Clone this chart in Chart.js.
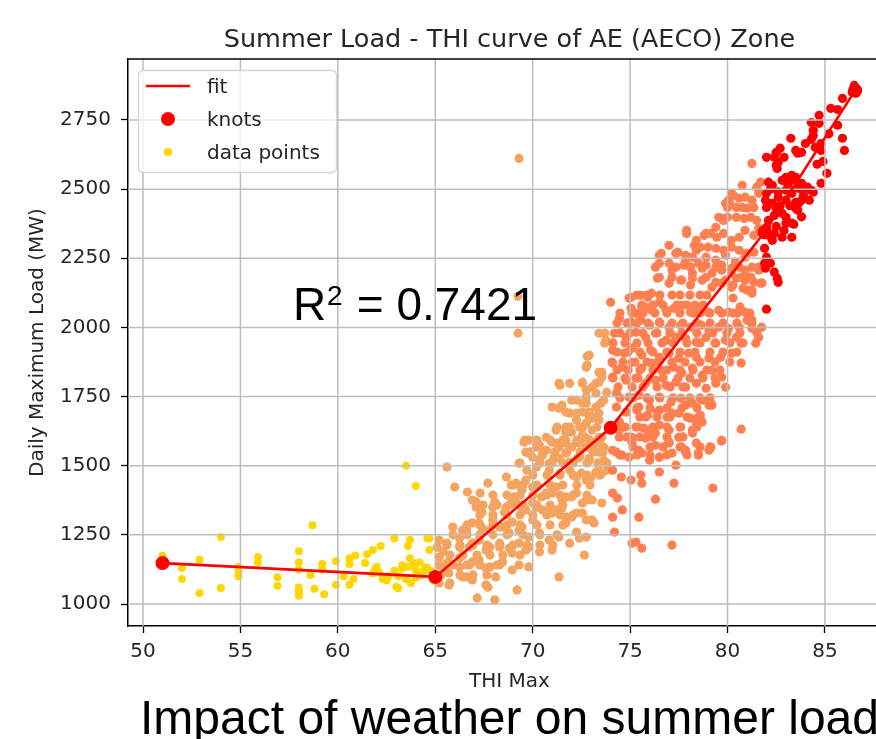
<!DOCTYPE html>
<html>
<head>
<meta charset="utf-8">
<title>Summer Load - THI curve of AE (AECO) Zone</title>
<script src="https://cdn.jsdelivr.net/npm/chart.js@4.4.1/dist/chart.umd.min.js"></script>
<style>
  html, body { margin: 0; padding: 0; background: #fff; overflow: hidden; }
  #wrap { width: 900px; height: 739px; }
</style>
</head>
<body>
<div id="wrap"><canvas id="summerLoad" width="900" height="739"></canvas></div>
<script>
// Tick labels
const xTicks = [50, 55, 60, 65, 70, 75, 80, 85];
const yTicks = [1000, 1250, 1500, 1750, 2000, 2250, 2500, 2750];

// Piecewise linear fit knots
const knotThi = [51.0, 65.0, 74.0, 81.9, 86.55];
const knotLoad = [1148, 1098, 1637, 2344, 2857];

// Data points by colour band, [THI max, daily max load MW]
const goldPoints = [
  [51.0,1175],[51.0,1160],[52.0,1130],[52.0,1090],[52.9,1160],[52.9,1040],[54.0,1242],[54.0,1058],
  [54.9,1134],[54.9,1100],[54.9,1115],[55.9,1170],[55.9,1150],[56.9,1097],[56.9,1066],
  [58.0,1191],[58.0,1150],[58.0,1125],[58.0,1060],[58.0,1045],[58.0,1030],[58.7,1285],[58.6,1105],[58.8,1055],
  [59.2,1145],[59.2,1125],[59.3,1035],[59.9,1155],[59.9,1070],[60.3,1100],[60.6,1165],[60.6,1145],[60.6,1070],
  [60.9,1175],[60.8,1090],[61.4,1148],[61.5,1180],[61.8,1195],[62.2,1210],[62.0,1135],[61.8,1110],[62.3,1090],
  [62.5,1085],[62.9,1237],[63.0,1062],[63.1,1057],[63.3,1128],[63.1,1100],[63.6,1210],[63.5,1090],[63.5,1500],
  [64.0,1427],[63.7,1232],[63.7,1165],[63.9,1147],[63.6,1135],[64.0,1123],[63.75,1075],[64.0,1095],[64.7,1237],
  [64.7,1195],[64.6,1130],[64.8,1118],[64.3,1105],[64.6,1238],[64.5,1133],[62.9,1120],[63.3,1140],[64.2,1150],
  [64.4,1120],[62.1,1115],[62.6,1100],[61.9,1125],[64.9,1085],[64.9,1110]
];
const sandyPoints = [
  [71.4,1791],[71.9,1798],[72.55,1798],[73.05,1784],[73.55,1820],[73.4,1838],[73.8,1766],
  [71.0,1712],[71.5,1719],[72.0,1737],[72.75,1726],[73.25,1712],[73.65,1737],[72.25,1690],[72.9,1676],[73.4,1665],
  [69.55,1585],[70.2,1592],[70.7,1603],[71.2,1582],[71.7,1618],[72.25,1585],[72.75,1600],[73.25,1582],[73.65,1567],
  [69.8,1545],[70.5,1538],[71.1,1531],[71.7,1545],[72.3,1527],[72.9,1527],[73.4,1509],[73.8,1484],
  [69.3,1509],[69.7,1484],[70.2,1495],[70.85,1484],[71.4,1473],[71.9,1484],[72.5,1473],[73.0,1459],[73.55,1473],
  [68.9,1430],[69.45,1412],[70.0,1423],[70.45,1387],[71.0,1401],[71.5,1376],[72.0,1387],[72.55,1365],[73.05,1376],
  [73.55,1365],[67.7,1437],[67.3,1401],
  [68.05,1369],[68.65,1350],[69.15,1365],[69.65,1340],[70.2,1350],[70.7,1329],[71.2,1340],[71.7,1314],[72.25,1329],
  [72.75,1304],[73.15,1293],[66.9,1376],[67.1,1350],
  [65.9,1278],[66.6,1267],[67.25,1293],[67.8,1267],[68.3,1278],[68.8,1257],[69.3,1267],[69.8,1242],[70.35,1257],
  [70.85,1231],[71.35,1242],[71.9,1220],[72.4,1238],[66.0,1423],
  [65.6,1220],[66.25,1206],[66.9,1220],[67.6,1195],[68.3,1206],[68.95,1184],[69.65,1195],[70.35,1188],[71.0,1195],[72.65,1177],
  [65.6,1148],[66.25,1134],[66.9,1152],[67.6,1130],[68.3,1141],[68.95,1123],[69.8,1134],[71.35,1098],[69.2,1051],
  [65.75,1076],[66.6,1098],[66.9,1087],[67.7,1061],[68.05,1015],[67.15,1022],
  [65.2,1231],[66.25,1238],[66.75,1206],[67.25,1231],[67.8,1206],[68.3,1220],[68.8,1202],[69.3,1220],[69.8,1206],
  [65.2,1170],[65.7,1152],[66.25,1166],[66.75,1141],[67.25,1159],[67.8,1134],[68.45,1152],[69.3,1141],
  [65.7,1112],[66.4,1098],[67.6,1069],[68.1,1098],[65.2,1076],[65.7,1069],
  [65.3,1105],[65.5,1125],[65.2,1140],[65.4,1190],[65.1,1205],
  [66.4,1267],[66.9,1293],[67.4,1275],[67.95,1304],[68.45,1278],[68.95,1296],[69.45,1278],[70.0,1304],
  [66.65,1405],[67.1,1369],[67.4,1332],[67.95,1350],[68.55,1332],[69.05,1387],[69.4,1423],[65.6,1495],
  [69.65,1549],[70.0,1531],[70.35,1574],[70.7,1556],[71.0,1585],[71.35,1567],[71.7,1592],[72.0,1567],[72.4,1592],
  [72.75,1567],[73.05,1582],[73.4,1549],[73.65,1520],
  [71.35,1708],[71.7,1694],[72.25,1737],[72.55,1726],[72.9,1694],[72.25,1665],[72.75,1654],[73.05,1672],[73.4,1690],
  [72.75,1773],[73.25,1798],[72.55,1802],[71.35,1798],
  [69.8,1592],[70.2,1567],[71.2,1629],[71.7,1640],[72.0,1621],[72.55,1611],[73.05,1629],[73.4,1603],[70.35,1520],
  [70.85,1509],[71.35,1527],[71.9,1513],[72.4,1531],[72.9,1520],[73.4,1502],[72.25,1459],[72.75,1448],[73.25,1477],
  [68.65,1459],[69.15,1437],[69.65,1448],[70.2,1423],[70.7,1401],[71.2,1423],[71.7,1387],[72.25,1401],[72.75,1376],
  [68.95,1376],[69.45,1350],[70.0,1365],[70.5,1340],[71.0,1329],[71.5,1347],[72.0,1314],[72.55,1329],[73.05,1304],
  [71.7,1293],[72.25,1260],[72.75,1242],
  [73.4,1979],[73.75,1954],[72.9,1900],[72.75,1856],[73.55,1838],[73.4,1802],[72.75,1748],[73.25,1762],[73.5,1726],
  [71.9,1690],[72.55,1694],[73.05,1676],[71.7,1629],[72.4,1640],[73.55,1603],[71.7,1582],[72.4,1582],[73.05,1567],
  [73.55,1556],[73.7,1979],[73.7,1943],[72.8,1896],[72.8,1864],
  [69.3,2611],[69.25,2113],[69.25,1979],
  [71.25,1640],[71.91,1640],[72.58,1640],[73.3,1640],
  [69.6,1593],[70.22,1593],[70.89,1593],[71.55,1593],[72.27,1593],[72.94,1593],[73.45,1593],
  [69.86,1550],[70.53,1550],[71.14,1550],[71.76,1550],[72.43,1550],[73.1,1550],[73.61,1550],
  [69.35,1510],[70.37,1510],[70.99,1510],[71.55,1510],[72.07,1510],[72.79,1510],[73.35,1510],[73.81,1510],
  [70.01,1466],[70.73,1466],[71.4,1466],[72.07,1466],[72.79,1466],[73.45,1466],
  [68.99,1430],[69.5,1430],[70.22,1430],[70.89,1430],[71.55,1430],[72.27,1430],[72.94,1430],
  [67.96,1394],[68.68,1394],[69.35,1394],[70.01,1394],[70.73,1394],[71.4,1394],[72.07,1394],[72.79,1394],
  [67.45,1358],[68.17,1358],[68.83,1358],[69.5,1358],[70.22,1358],[70.89,1358],[71.55,1358],
  [67.29,1322],[67.96,1322],[68.68,1322],[69.35,1322],[70.01,1322],[70.73,1322],[71.4,1322],[72.07,1322],
  [66.63,1286],[67.29,1286],[67.96,1286],[68.68,1286],[69.35,1286],[70.22,1286],[70.89,1286],[71.55,1286],
  [65.91,1250],[66.63,1250],[67.29,1250],[67.96,1250],[68.68,1250],[69.5,1250],[70.37,1250],[71.25,1250],
  [65.6,1213],[66.27,1213],[66.94,1213],[67.65,1213],[68.32,1213],[68.99,1213],[69.71,1213],[70.37,1213],[71.04,1213],
  [65.75,1177],[66.42,1177],[67.14,1177],[67.81,1177],[68.47,1177],[69.35,1177],
  [65.91,1141],[66.63,1141],[67.29,1141],[68.17,1141],
  [66.27,1105],[66.94,1105],[67.65,1105]
];
const coralPoints = [
  [81.25,2593],[80.75,2514],[81.5,2507],[81.7,2525],[80.2,2485],[80.05,2460],[79.9,2449],
  [80.3,2478],[80.6,2467],[80.9,2471],[81.25,2460],[81.6,2485],[81.35,2434],[81.0,2431],[80.75,2434],[80.45,2434],
  [80.1,2452],[80.0,2434],
  [79.7,2394],[80.0,2398],[80.45,2398],[80.85,2394],[81.2,2398],[81.5,2387],[79.55,2398],[79.8,2387],[79.4,2362],
  [77.9,2351],[77.9,2340],[78.9,2340],[78.4,2315],
  [78.8,2333],[79.15,2340],[79.45,2326],[79.8,2340],[80.2,2315],[80.6,2326],[80.9,2351],[81.35,2333],[81.6,2358],
  [78.3,2297],[78.6,2290],[79.0,2290],[79.4,2286],[79.8,2279],[80.2,2290],[80.6,2279],[81.0,2268],[81.35,2272],
  [77.0,2297],[76.6,2268],[77.45,2272],[77.85,2261],[78.2,2254],[76.5,2261],[77.35,2268],[77.85,2243],
  [76.5,2232],[77.0,2232],[77.35,2218],[77.75,2225],[78.1,2218],[78.5,2232],[78.9,2225],[79.4,2218],[79.7,2225],
  [80.2,2214],[80.6,2218],[80.9,2207],[81.25,2218],[81.6,2207],[76.3,2218],
  [76.5,2181],[77.15,2181],[77.65,2171],[78.2,2178],[78.9,2181],[79.4,2163],[79.9,2171],[80.45,2178],[80.9,2171],[81.35,2163],
  [78.4,2279],[78.9,2254],[79.4,2243],[79.9,2261],[80.4,2236],[80.9,2254],
  [77.15,2207],[78.2,2196],[78.7,2214],[79.2,2196],[79.7,2207],[80.2,2196],[80.7,2181],[81.2,2181],
  [76.4,2178],[77.0,2160],[77.6,2171],[78.1,2153],[78.7,2171],[79.2,2145],[79.7,2160],[80.2,2145],[80.8,2142],[81.25,2134],
  [81.1,2181],[81.6,2218],[81.7,2160],[81.25,2124],
  [74.0,2091],[75.05,2109],[75.55,2116],[75.9,2109],[76.1,2124],[75.8,2073],[75.3,2051],[74.95,2106],
  [75.05,2069],[75.6,2073],[76.1,2062],[76.5,2091],[76.85,2062],[77.25,2069],[77.65,2080],[78.1,2055],[78.5,2073],
  [79.0,2055],[79.55,2062],[80.05,2055],[80.5,2051],[80.9,2055],[81.0,2026],[81.2,2019],
  [74.45,2033],[75.05,2019],[75.55,2026],[76.0,2008],[76.5,2019],[77.0,2001],[77.6,2008],[78.1,2001],[78.65,2008],
  [79.05,1990],[79.55,2001],[80.05,1997],[80.6,2001],[81.25,1997],[81.6,1964],[81.45,1943],[81.75,2001],
  [74.2,1979],[74.8,1964],[75.3,1983],[75.8,1964],[76.3,1979],[76.85,1954],[77.35,1964],[77.85,1961],[78.4,1947],
  [78.9,1964],[79.4,1943],[79.9,1954],[80.45,1964],[80.7,1943],
  [74.1,1918],[74.7,1907],[75.1,1925],[75.6,1900],[76.05,1918],[76.5,1892],[77.0,1907],[77.5,1889],[78.0,1907],
  [78.4,1892],[79.05,1889],[79.65,1892],[80.2,1907],[80.7,1871],
  [74.1,1871],[74.6,1856],[75.1,1874],[75.6,1853],[76.1,1871],[76.6,1845],[77.25,1856],[77.65,1835],[78.2,1853],
  [78.7,1827],[79.2,1845],[79.7,1820],
  [74.1,1820],[74.8,1809],[75.3,1817],[75.8,1798],[76.3,1809],[76.85,1791],[77.35,1802],[77.85,1784],[78.4,1798],
  [78.9,1780],[79.4,1798],[79.9,1784],
  [74.3,1762],[74.95,1748],[75.45,1755],[76.0,1737],[76.5,1748],[77.1,1730],[77.6,1744],[78.2,1726],[78.7,1737],[79.2,1719],
  [74.3,1712],[74.8,1694],[75.35,1701],[75.9,1683],[76.4,1694],[76.9,1676],[77.5,1690],[78.1,1672],[78.6,1683],[79.15,1726],
  [74.45,1658],[75.3,1640],[75.9,1629],[76.5,1647],[77.0,1629],[77.6,1640],[78.2,1618],[78.7,1658],
  [74.45,1603],[75.1,1585],[75.8,1600],[76.3,1574],[77.0,1585],[77.65,1567],[78.4,1582],[79.05,1556],[79.7,1592],
  [74.3,1549],[74.95,1531],[75.6,1546],[76.5,1531],[77.15,1546],[77.85,1549],[78.5,1546],
  [75.45,1712],[75.8,1676],[76.5,1701],[77.15,1690],[77.85,1719],[78.5,1676],[79.05,1719],[78.4,1654],[78.2,1629],
  [74.45,1629],[75.1,1603],[75.7,1636],[76.3,1618],[77.0,1582],[77.5,1603],[77.85,1556],[78.5,1538],[79.15,1567],[79.7,1589],
  [74.1,1556],[74.6,1538],[75.45,1556],[76.0,1520],[76.5,1531],[77.35,1502],
  [74.1,1484],[74.55,1459],[75.05,1448],[75.55,1466],[75.6,1437],[76.5,1477],[77.25,1437],
  [74.1,1401],[74.35,1383],[74.6,1340],[74.1,1314],[75.45,1314],[76.3,1379],
  [74.2,1260],[75.1,1220],[75.3,1224],[75.6,1202],[77.15,1213],[79.25,1419],[80.7,1632],
  [75.35,2117],[75.87,2117],[76.53,2117],[77.15,2117],[77.56,2117],[78.07,2117],[78.59,2117],[78.94,2117],
  [75.6,2081],[76.17,2081],[76.69,2081],[77.4,2081],[77.92,2081],[78.33,2081],[78.74,2081],
  [74.48,2052],[75.1,2052],[75.66,2052],[76.28,2052],[76.89,2052],[77.56,2052],[78.23,2052],[78.59,2052],[79.1,2052],
  [79.71,2052],[80.28,2052],[81.15,2052],
  [74.33,2016],[74.84,2016],[75.35,2016],[75.92,2016],[76.53,2016],[77.15,2016],[77.71,2016],[78.43,2016],[79.1,2016],
  [79.77,2016],[80.48,2016],[81.25,2016],
  [74.48,1980],[74.99,1980],[75.66,1980],[76.38,1980],[77.05,1980],[77.66,1980],[78.43,1980],[79.25,1980],
  [79.97,1980],[80.64,1980],[81.51,1980],
  [74.12,1944],[74.74,1944],[75.35,1944],[75.92,1944],[76.64,1944],[77.2,1944],[77.92,1944],[78.59,1944],[79.36,1944],
  [80.12,1944],[80.79,1944],
  [74.33,1911],[74.9,1911],[75.5,1911],[76.17,1911],[76.89,1911],[77.56,1911],[78.33,1911],[79.1,1911],[79.77,1911],[80.48,1911],
  [74.07,1875],[74.63,1875],[75.25,1875],[75.87,1875],[76.43,1875],[77.15,1875],[77.82,1875],[78.59,1875],[79.36,1875],[80.12,1875],
  [74.33,1846],[74.9,1846],[75.5,1846],[76.17,1846],[76.89,1846],[77.56,1846],[78.23,1846],[78.94,1846],[79.61,1846],
  [74.12,1817],[74.74,1817],[75.4,1817],[76.02,1817],[76.69,1817],[77.46,1817],[78.07,1817],[78.74,1817],[79.36,1817],
  [74.38,1785],[75.1,1785],[75.66,1785],[76.38,1785],[77.05,1785],[77.71,1785],
  [74.48,1745],[75.15,1745],[75.87,1745],[76.53,1745],[77.2,1745],[78.07,1745],[78.59,1745],[79.1,1745],
  [75.35,1709],[76.02,1709],[76.89,1709],[77.66,1709],[78.43,1709],
  [75.5,1676],[76.38,1676],[77.05,1676],[77.92,1676],[78.59,1676],
  [74.74,1640],[75.4,1640],[76.17,1640],[76.89,1640],[77.56,1640],[78.43,1640],
  [74.84,1604],[75.5,1604],[76.17,1604],[76.89,1604],[77.71,1604],
  [75.15,1568],[76.02,1568],[76.69,1568],[77.56,1568],[78.59,1568],[79.1,1568],
  [74.48,1539],[75.35,1539],[76.02,1539],[76.89,1539],[77.92,1539],
  [80.28,2153],[81.0,2135],[81.77,2161],[80.28,2106],[80.64,2074],[81.25,2027]
];
const redPoints = [
  [86.5,2875],[86.6,2857],[86.4,2850],[86.6,2847],[85.9,2828],[85.3,2792],[85.65,2788],[84.7,2767],[84.3,2741],
  [84.7,2738],[85.65,2731],[84.4,2713],[84.4,2694],[84.3,2680],[84.8,2665],[84.5,2651],[83.25,2684],
  [84.0,2665],[83.8,2633],[83.5,2640],[83.6,2630],[85.9,2684],[86.0,2640],[84.7,2651],[84.8,2640],
  [82.7,2648],[82.5,2633],[82.0,2615],[82.4,2615],[82.9,2615],[82.5,2586],[82.55,2575],[82.6,2597],[85.1,2557],
  [83.0,2543],[82.8,2532],[83.25,2532],[83.5,2543],[83.3,2550],[82.1,2525],[82.3,2514],
  [83.8,2521],[84.1,2507],[83.65,2503],[84.3,2496],[84.8,2521],
  [83.0,2496],[83.3,2485],[82.6,2471],[83.0,2460],[83.5,2452],[83.8,2460],[84.4,2489],
  [82.0,2485],[81.95,2460],[82.3,2449],[82.0,2434],[82.5,2431],
  [83.65,2449],[84.2,2460],[83.5,2431],[82.8,2413],[83.0,2398],[82.4,2405],[82.1,2387],
  [83.6,2424],[83.3,2377],[83.0,2377],[83.4,2373],
  [82.0,2351],[81.9,2340],[82.1,2333],[82.0,2362],[82.4,2340],[82.8,2326],[83.3,2326],[82.3,2315],
  [81.9,2286],[82.0,2254],[81.9,2232],[82.2,2232],[81.95,2214],[82.4,2200],[82.55,2178],[82.6,2163],[82.0,2066],
  [82.2,2500],[82.6,2490],[83.1,2515],[83.9,2480],[82.7,2440],[83.2,2440],[82.9,2350],[82.5,2365],[83.8,2400],
  [84.6,2590],[85.2,2700],[84.9,2600]
];

const toXY = pts => pts.map(p => ({ x: p[0], y: p[1] }));
const knotXY = knotThi.map((t, i) => ({ x: t, y: knotLoad[i] }));

// Grid goes over the scatter but under the fit line, like matplotlib
const gridOverPoints = {
    id: 'gridOverPoints',
    beforeDatasetDraw(chart, args) {
        if (args.index !== 1) return;
        const { ctx, chartArea: a, scales: { x, y } } = chart;
        ctx.save();
        ctx.beginPath();
        ctx.rect(a.left, a.top, a.width, a.height);
        ctx.clip();
        ctx.strokeStyle = '#bdbdbd';
        ctx.lineWidth = 1.5;
        ctx.beginPath();
        xTicks.forEach(v => {
            const px = x.getPixelForValue(v);
            ctx.moveTo(px, a.top);
            ctx.lineTo(px, a.bottom);
        });
        yTicks.forEach(v => {
            const py = y.getPixelForValue(v);
            ctx.moveTo(a.left, py);
            ctx.lineTo(a.right, py);
        });
        ctx.stroke();
        ctx.restore();
    }
};

// Titles, legend box and annotations
const textLayer = {
    id: 'textLayer',
    afterDraw(chart) {
        const { ctx, chartArea: a } = chart;
        const cx = (a.left + a.right) / 2;
        ctx.save();

        // top spine
        ctx.strokeStyle = '#000';
        ctx.lineWidth = 1.5;
        ctx.beginPath();
        ctx.moveTo(a.left, a.top);
        ctx.lineTo(a.right, a.top);
        ctx.stroke();

        ctx.fillStyle = '#262626';
        ctx.textAlign = 'center';
        ctx.textBaseline = 'alphabetic';
        ctx.font = '25.5px "DejaVu Sans"';
        ctx.fillText('Summer Load - THI curve of AE (AECO) Zone', cx, 47);

        ctx.font = '20px "DejaVu Sans"';
        ctx.fillText('THI Max', cx, 687);

        ctx.save();
        ctx.translate(43, (a.top + a.bottom) / 2);
        ctx.rotate(-Math.PI / 2);
        ctx.fillText('Daily Maximum Load (MW)', 0, 0);
        ctx.restore();

        // legend
        ctx.beginPath();
        ctx.roundRect(138.5, 70.5, 198, 102, 5);
        ctx.fillStyle = 'rgba(255,255,255,0.8)';
        ctx.fill();
        ctx.strokeStyle = '#d6d6d6';
        ctx.lineWidth = 1.3;
        ctx.stroke();

        ctx.strokeStyle = '#ff0000';
        ctx.lineWidth = 2.6;
        ctx.beginPath();
        ctx.moveTo(146, 86);
        ctx.lineTo(190, 86);
        ctx.stroke();

        ctx.fillStyle = '#ff0000';
        ctx.beginPath();
        ctx.arc(168, 119, 7, 0, Math.PI * 2);
        ctx.fill();

        ctx.fillStyle = '#ffd700';
        ctx.beginPath();
        ctx.arc(168, 152, 4, 0, Math.PI * 2);
        ctx.fill();

        ctx.fillStyle = '#262626';
        ctx.textAlign = 'left';
        ctx.font = '20px "DejaVu Sans"';
        ctx.fillText('fit', 207, 93);
        ctx.fillText('knots', 207, 126);
        ctx.fillText('data points', 207, 159);

        // R squared
        ctx.fillStyle = '#000';
        ctx.font = '46px "Liberation Sans"';
        ctx.fillText('R', 293, 320);
        ctx.font = '28px "Liberation Sans"';
        ctx.fillText('2', 327, 305);
        ctx.font = '46px "Liberation Sans"';
        ctx.fillText(' = 0.7421', 344, 320);

        // caption
        ctx.font = '48px "Liberation Sans"';
        ctx.fillText('Impact of weather on summer load', 140, 734);

        ctx.restore();
    }
};

const scatterSet = (label, pts, color, r) => ({
    label: label,
    data: toXY(pts),
    backgroundColor: color,
    borderWidth: 0,
    pointRadius: r,
    showLine: false
});

const summerLoadConfig = {
    type: 'scatter',
    data: {
        datasets: [
            {
                label: 'knots',
                data: knotXY,
                backgroundColor: '#ff0000',
                borderWidth: 0,
                pointRadius: 7,
                showLine: false
            },
            {
                label: 'fit',
                data: knotXY,
                borderColor: '#ff0000',
                borderWidth: 2.6,
                pointRadius: 0,
                showLine: true,
                fill: false
            },
            scatterSet('82+', redPoints, '#ff0000', 4.6),
            scatterSet('74-82', coralPoints, '#ff7f50', 4.6),
            scatterSet('65-74', sandyPoints, '#f4a460', 4.6),
            scatterSet('<65', goldPoints, '#ffd700', 4)
        ]
    },
    options: {
        responsive: false,
        animation: false,
        events: [],
        layout: { padding: { left: 0, top: 59, right: 9, bottom: 0 } },
        plugins: {
            legend: { display: false },
            tooltip: { enabled: false },
            title: { display: false }
        },
        scales: {
            x: {
                type: 'linear',
                min: 49.23,
                max: 88.39,
                afterBuildTicks: s => { s.ticks = xTicks.map(v => ({ value: v })); },
                afterFit: s => { s.height = 113; },
                grid: { drawOnChartArea: false, tickLength: 7, tickColor: '#000', tickWidth: 1.3 },
                border: { display: true, color: '#000', width: 1.5 },
                ticks: {
                    color: '#262626',
                    padding: 7,
                    maxRotation: 0,
                    font: { size: 20, family: 'DejaVu Sans' },
                    callback: v => String(v)
                }
            },
            y: {
                type: 'linear',
                min: 920.5,
                max: 2970.5,
                afterBuildTicks: s => { s.ticks = yTicks.map(v => ({ value: v })); },
                afterFit: s => { s.width = 128; },
                grid: { drawOnChartArea: false, tickLength: 7, tickColor: '#000', tickWidth: 1.3 },
                border: { display: true, color: '#000', width: 1.5 },
                ticks: {
                    color: '#262626',
                    padding: 10,
                    font: { size: 20, family: 'DejaVu Sans' },
                    callback: v => String(v)
                }
            }
        }
    },
    plugins: [gridOverPoints, textLayer]
};

const summerLoadChart = new Chart(
    document.getElementById('summerLoad'),
    summerLoadConfig
);
</script>
</body>
</html>
